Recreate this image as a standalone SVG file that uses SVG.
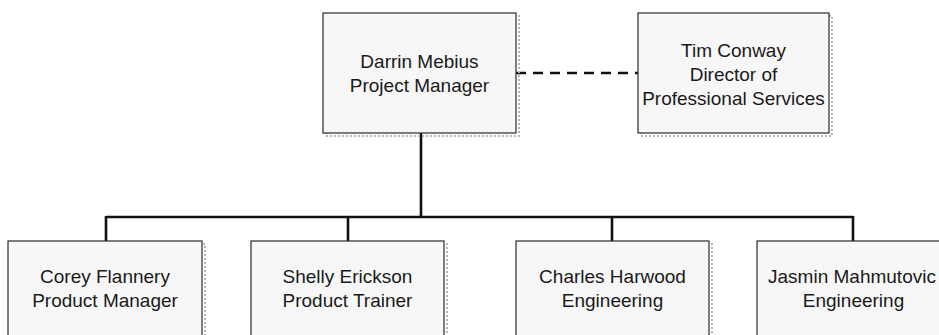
<svg xmlns="http://www.w3.org/2000/svg" width="939" height="335" viewBox="0 0 939 335">
<style>
.box{fill:#f7f7f7;stroke:#2a2a2a;stroke-width:1.2}
.shadow{fill:none;stroke:#b5b5b5;stroke-width:2;stroke-dasharray:2 2}
.t{font-family:"Liberation Sans",Arial,sans-serif;font-size:19px;fill:#1a1a1a;text-anchor:middle}
.conn{stroke:#111;stroke-width:2.6;fill:none}
.dash{stroke:#111;stroke-width:2.6;fill:none;stroke-dasharray:10 7}
</style>
<rect width="939" height="335" fill="#ffffff"/>
<g id="connectors">
<line class="dash" x1="516" y1="73" x2="638" y2="73"/>
<path class="conn" d="M421 133 V217 M106 217 H853 M106 216 V241 M348 216 V241 M612 216 V241 M853 216 V241"/>
</g>
<g id="darrin">
<rect class="shadow" x="326" y="16" width="193" height="120"/>
<rect class="box" x="323" y="13" width="193" height="120"/>
<text class="t" x="419.5" y="68">Darrin Mebius</text>
<text class="t" x="419.5" y="92">Project Manager</text>
</g>
<g id="tim">
<rect class="shadow" x="641" y="16" width="191" height="120"/>
<rect class="box" x="638" y="13" width="191" height="120"/>
<text class="t" x="733.5" y="57">Tim Conway</text>
<text class="t" x="733.5" y="81">Director of</text>
<text class="t" x="733.5" y="105">Professional Services</text>
</g>
<g id="corey">
<rect class="shadow" x="11" y="244" width="194" height="120"/>
<rect class="box" x="8" y="241" width="194" height="120"/>
<text class="t" x="105" y="283">Corey Flannery</text>
<text class="t" x="105" y="307">Product Manager</text>
</g>
<g id="shelly">
<rect class="shadow" x="254" y="244" width="193" height="120"/>
<rect class="box" x="251" y="241" width="193" height="120"/>
<text class="t" x="347.5" y="283">Shelly Erickson</text>
<text class="t" x="347.5" y="307">Product Trainer</text>
</g>
<g id="charles">
<rect class="shadow" x="519" y="244" width="193" height="120"/>
<rect class="box" x="516" y="241" width="193" height="120"/>
<text class="t" x="612.5" y="283">Charles Harwood</text>
<text class="t" x="612.5" y="307">Engineering</text>
</g>
<g id="jasmin">
<rect class="shadow" x="760" y="244" width="193" height="120"/>
<rect class="box" x="757" y="241" width="193" height="120"/>
<text class="t" x="852" y="283">Jasmin Mahmutovic</text>
<text class="t" x="853.5" y="307">Engineering</text>
</g>
</svg>
